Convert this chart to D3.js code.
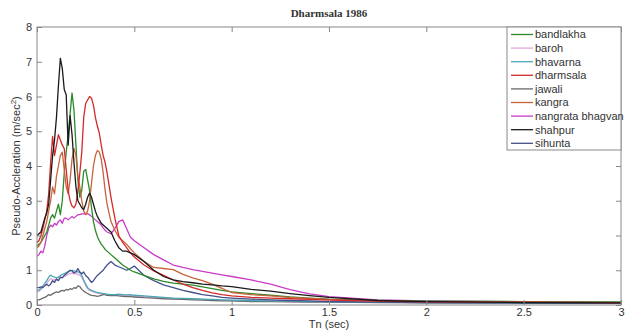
<!DOCTYPE html>
<html>
<head>
<meta charset="utf-8">
<script src="https://cdn.jsdelivr.net/npm/d3@7"></script>
<style>
  body { margin: 0; background: #fff; }
  text { font-family: "Liberation Sans", Arial, sans-serif; fill: #333; }
</style>
</head>
<body>
<div id="chart"></div>
<script>
const width = 630, height = 330;
const margin = {top: 27, right: 9, bottom: 25, left: 37};

// periods Tn (sec)
const periods = [0,0.01,0.02,0.03,0.04,0.05,0.06,0.07,0.08,0.09,0.10,0.11,0.12,0.13,0.14,0.15,0.16,0.17,0.18,0.19,
  0.20,0.21,0.22,0.23,0.24,0.25,0.26,0.27,0.28,0.29,0.30,0.31,0.32,0.33,0.34,0.35,0.36,
  0.38,0.40,0.42,0.44,0.46,0.48,0.50,
  0.55,0.60,0.65,0.70,0.75,0.80,0.85,0.90,0.95,1.00,
  1.1,1.2,1.3,1.4,1.5,1.75,2,2.5,3];

const stations = ["bandlakha","baroh","bhavarna","dharmsala","jawali","kangra","nangrata bhagvan","shahpur","sihunta"];
const colors = ["#2a8a2a","#e2a8e0","#4aa8b4","#d42a2a","#6a6a6a","#c8643c","#c83cc8","#1a1a1a","#44508a"];

const bandlakha = [1.7,1.75,1.8,1.9,2.0,2.1,2.3,2.5,2.6,2.5,2.7,2.9,2.6,3.0,3.8,4.4,4.9,5.5,6.1,5.6,
  4.6,3.6,3.1,3.3,3.85,3.9,3.6,3.3,2.8,2.4,2.15,1.97,1.85,1.75,1.68,1.6,1.55,
  1.45,1.35,1.25,1.15,1.08,1.0,0.95,
  0.85,0.75,0.68,0.63,0.6,0.57,0.52,0.47,0.42,0.38,
  0.33,0.28,0.23,0.2,0.17,0.13,0.11,0.1,0.09];
const baroh = [0.38,0.4,0.44,0.5,0.56,0.62,0.7,0.76,0.74,0.72,0.72,0.74,0.78,0.8,0.82,0.85,0.88,0.9,0.92,0.9,
  0.9,0.88,0.86,0.8,0.68,0.56,0.47,0.42,0.4,0.38,0.36,0.34,0.33,0.32,0.31,0.3,0.29,
  0.28,0.28,0.29,0.28,0.27,0.28,0.26,
  0.24,0.22,0.2,0.19,0.18,0.17,0.16,0.15,0.14,0.13,
  0.12,0.11,0.1,0.09,0.09,0.08,0.07,0.06,0.05];
const bhavarna = [0.42,0.43,0.48,0.55,0.62,0.7,0.8,0.86,0.82,0.8,0.78,0.8,0.85,0.88,0.9,0.93,0.96,0.98,1.0,0.98,
  0.97,0.95,0.93,0.85,0.72,0.6,0.5,0.45,0.42,0.4,0.38,0.36,0.35,0.34,0.33,0.32,0.31,
  0.3,0.3,0.31,0.3,0.29,0.3,0.28,
  0.26,0.24,0.22,0.2,0.19,0.18,0.17,0.16,0.15,0.14,
  0.13,0.12,0.11,0.1,0.09,0.08,0.07,0.06,0.05];
const dharmsala = [1.8,1.85,2.0,2.2,2.45,2.7,3.2,4.1,4.85,4.3,4.6,4.9,4.75,4.6,4.5,3.9,3.3,3.0,2.85,2.8,
  2.9,3.3,3.8,4.4,5.4,5.8,5.9,6.0,5.95,5.75,5.4,5.15,4.95,4.6,4.3,4.1,3.8,
  3.1,2.5,2.0,1.8,1.65,1.5,1.38,
  1.15,0.98,0.85,0.72,0.6,0.5,0.42,0.35,0.3,0.26,
  0.22,0.2,0.18,0.16,0.14,0.11,0.09,0.08,0.07];
const jawali = [0.15,0.15,0.17,0.2,0.22,0.25,0.3,0.28,0.32,0.35,0.38,0.36,0.4,0.42,0.4,0.45,0.43,0.47,0.45,0.5,
  0.48,0.55,0.53,0.45,0.4,0.36,0.33,0.3,0.28,0.27,0.26,0.25,0.26,0.28,0.3,0.3,0.28,
  0.27,0.28,0.26,0.25,0.24,0.24,0.23,
  0.21,0.2,0.18,0.17,0.16,0.15,0.14,0.13,0.12,0.12,
  0.1,0.1,0.09,0.08,0.08,0.07,0.06,0.05,0.05];
const kangra = [1.65,1.7,1.8,2.0,2.2,2.4,2.7,3.0,3.4,3.2,3.7,4.0,4.3,4.4,3.9,3.4,3.2,3.6,4.2,4.5,
  4.3,3.7,3.4,3.0,2.7,2.6,2.7,3.0,3.5,4.0,4.3,4.45,4.4,4.2,3.8,3.3,2.9,
  2.4,2.15,1.95,1.85,1.75,1.62,1.5,
  1.25,1.08,1.05,1.02,0.88,0.78,0.7,0.6,0.48,0.36,
  0.3,0.26,0.22,0.19,0.16,0.12,0.1,0.08,0.07];
const nangrata = [1.4,1.45,1.55,1.5,1.7,2.0,2.2,2.3,2.25,2.35,2.3,2.4,2.45,2.35,2.5,2.5,2.45,2.5,2.55,2.5,
  2.55,2.6,2.6,2.62,2.62,2.63,2.62,2.6,2.55,2.5,2.45,2.4,2.35,2.3,2.22,2.15,2.1,
  2.05,2.2,2.4,2.45,2.2,1.95,1.85,
  1.65,1.45,1.3,1.15,1.08,1.02,0.97,0.92,0.87,0.82,
  0.72,0.6,0.44,0.32,0.24,0.15,0.12,0.09,0.07];
const shahpur = [2.0,2.05,2.1,2.3,2.5,2.65,2.9,3.6,4.3,4.75,5.4,6.3,7.1,6.8,6.2,6.05,4.6,5.45,4.9,4.1,
  3.4,3.0,2.9,2.8,2.75,2.9,3.1,3.22,3.1,2.9,2.7,2.55,2.45,2.35,2.3,2.25,2.2,
  2.1,1.85,1.65,1.55,1.55,1.5,1.45,
  1.25,1.0,0.82,0.72,0.67,0.64,0.6,0.58,0.55,0.53,
  0.45,0.4,0.33,0.27,0.22,0.13,0.1,0.07,0.06];
const sihunta = [0.5,0.5,0.52,0.5,0.55,0.6,0.55,0.6,0.7,0.65,0.75,0.7,0.8,0.78,0.85,0.9,0.95,1.0,0.98,0.92,
  0.95,1.05,0.95,0.9,0.95,0.85,0.8,0.72,0.65,0.7,0.78,0.85,0.9,0.95,1.0,1.08,1.15,
  1.25,1.15,1.1,1.05,1.0,1.05,1.12,
  0.85,0.7,0.58,0.5,0.42,0.36,0.3,0.26,0.22,0.2,
  0.17,0.15,0.13,0.12,0.1,0.08,0.07,0.06,0.05];

const seriesValues = [bandlakha, baroh, bhavarna, dharmsala, jawali, kangra, nangrata, shahpur, sihunta];
const drawOrder = [1, 4, 2, 8, 6, 0, 5, 3, 7];

const xTicks = [0, 0.5, 1, 1.5, 2, 2.5, 3];
const yTicks = [0, 1, 2, 3, 4, 5, 6, 7, 8];

const innerW = width - margin.left - margin.right;
const innerH = height - margin.top - margin.bottom;

const svg = d3.select("#chart")
    .append("svg")
    .attr("width", width)
    .attr("height", height);

const g = svg.append("g")
    .attr("transform", `translate(${margin.left}, ${margin.top})`);

const x = d3.scaleLinear().domain([0, 3]).range([0, innerW]);
const y = d3.scaleLinear().domain([0, 8]).range([innerH, 0]);

// curves
const line = d3.line()
    .x((d, i) => x(periods[i]))
    .y(d => y(d));

g.append("g").selectAll("path")
    .data(drawOrder)
    .enter()
    .append("path")
    .attr("d", k => line(seriesValues[k]))
    .attr("fill", "none")
    .attr("stroke", k => colors[k])
    .attr("stroke-width", 1.3)
    .attr("stroke-linejoin", "round");

// axes, matlab style box with inward ticks
const axisColor = "#888";
function styleAxis(sel) {
    sel.select(".domain").remove();
    sel.selectAll("line").attr("stroke", axisColor);
    sel.selectAll("text").attr("fill", "#333").style("font-size", "11px");
}

g.append("g")
    .attr("transform", `translate(0, ${innerH})`)
    .call(d3.axisBottom(x).tickValues(xTicks).tickSize(-5).tickPadding(3).tickFormat(d3.format("")))
    .call(styleAxis);

g.append("g")
    .call(d3.axisTop(x).tickValues(xTicks).tickSize(-5).tickFormat(""))
    .call(styleAxis);

g.append("g")
    .call(d3.axisLeft(y).tickValues(yTicks).tickSize(-5).tickPadding(5))
    .call(styleAxis);

g.append("g")
    .attr("transform", `translate(${innerW}, 0)`)
    .call(d3.axisRight(y).tickValues(yTicks).tickSize(-5).tickFormat(""))
    .call(styleAxis);

g.append("rect")
    .attr("width", innerW)
    .attr("height", innerH)
    .attr("fill", "none")
    .attr("stroke", axisColor)
    .attr("stroke-width", 1);

// legend
const legend = g.append("g").attr("transform", `translate(${innerW - 114}, 0)`);
legend.append("rect")
    .attr("width", 114)
    .attr("height", 123)
    .attr("fill", "#fff")
    .attr("stroke", axisColor);

const items = legend.selectAll(".item")
    .data(stations)
    .enter()
    .append("g")
    .attr("transform", (d, i) => `translate(0, ${7.5 + i * 13.6})`);

items.append("line")
    .attr("x1", 4).attr("x2", 26)
    .attr("stroke", (d, i) => colors[i])
    .attr("stroke-width", 1.3);

items.append("text")
    .attr("x", 28)
    .attr("dy", "0.35em")
    .style("font-size", "11px")
    .text(d => d);

// title and labels
svg.append("text")
    .attr("x", margin.left + innerW / 2)
    .attr("y", 17)
    .attr("text-anchor", "middle")
    .style("font-family", "'Liberation Serif', 'Times New Roman', serif")
    .style("font-weight", "bold")
    .style("font-size", "11px")
    .text("Dharmsala 1986");

svg.append("text")
    .attr("x", margin.left + innerW / 2)
    .attr("y", 328)
    .attr("text-anchor", "middle")
    .style("font-size", "11px")
    .text("Tn (sec)");

const ylab = svg.append("text")
    .attr("transform", `translate(20, ${margin.top + innerH / 2}) rotate(-90)`)
    .attr("text-anchor", "middle")
    .style("font-size", "11px");
ylab.append("tspan").text("Pseudo-Accleration (m/sec");
ylab.append("tspan").attr("dy", "-4").style("font-size", "8px").text("2");
ylab.append("tspan").attr("dy", "4").text(")");
</script>
</body>
</html>
